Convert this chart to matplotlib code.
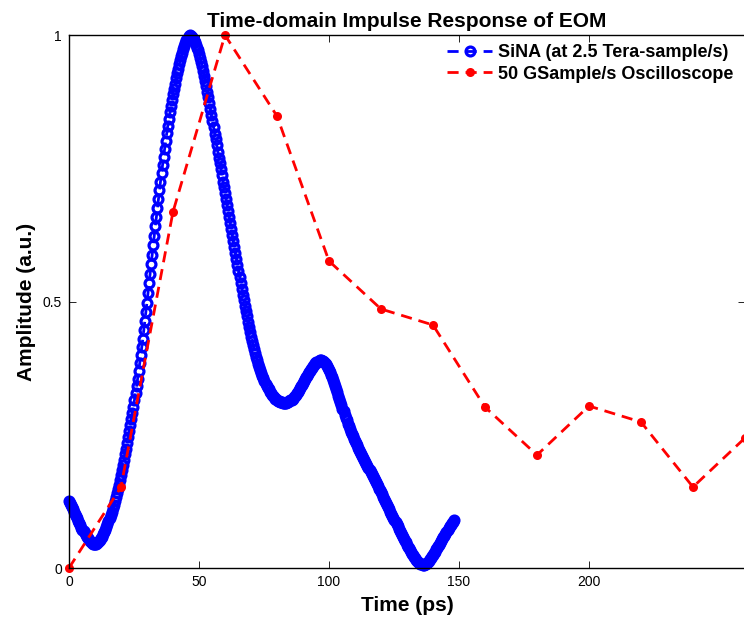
import matplotlib
matplotlib.use("Agg")
import matplotlib.pyplot as plt
import numpy as np

plt.rcParams.update({
    'font.family': 'sans-serif',
    'font.sans-serif': ['Liberation Sans', 'DejaVu Sans'],
    'font.size': 10,
    'xtick.direction': 'in', 'ytick.direction': 'in',
    'xtick.top': True, 'ytick.right': True,
    'xtick.major.size': 5, 'ytick.major.size': 5,
    'xtick.major.width': 0.6, 'ytick.major.width': 0.6,
    'axes.linewidth': 1.0,
})

# SiNA trace, one sample every 0.4 ps (2.5 Tera-sample/s), starting at t = 0
SAMPLE_PS = 0.4
sina_amp = [
    0.126, 0.122, 0.119, 0.115, 0.110, 0.106, 0.102, 0.097, 0.093, 0.088,
    0.084, 0.080, 0.076, 0.072, 0.069, 0.065, 0.062, 0.059, 0.056, 0.053,
    0.050, 0.048, 0.047, 0.046, 0.045, 0.045, 0.046, 0.047, 0.048, 0.051,
    0.053, 0.056, 0.059, 0.063, 0.068, 0.072, 0.077, 0.082, 0.088, 0.094,
    0.100, 0.106, 0.113, 0.119, 0.126, 0.133, 0.141, 0.148, 0.156, 0.165,
    0.174, 0.184, 0.193, 0.203, 0.214, 0.224, 0.235, 0.246, 0.257, 0.268,
    0.279, 0.291, 0.303, 0.315, 0.328, 0.341, 0.355, 0.369, 0.384, 0.399,
    0.414, 0.430, 0.447, 0.464, 0.481, 0.498, 0.516, 0.534, 0.552, 0.570,
    0.588, 0.606, 0.623, 0.641, 0.658, 0.675, 0.692, 0.709, 0.725, 0.741,
    0.757, 0.772, 0.787, 0.802, 0.816, 0.830, 0.842, 0.855, 0.867, 0.878,
    0.889, 0.899, 0.909, 0.919, 0.928, 0.937, 0.945, 0.953, 0.960, 0.967,
    0.974, 0.980, 0.985, 0.990, 0.994, 0.998, 1.000, 0.999, 0.996, 0.993,
    0.990, 0.986, 0.981, 0.976, 0.971, 0.965, 0.957, 0.950, 0.942, 0.933,
    0.924, 0.914, 0.904, 0.894, 0.883, 0.872, 0.861, 0.850, 0.838, 0.827,
    0.815, 0.804, 0.793, 0.781, 0.770, 0.759, 0.748, 0.737, 0.725, 0.714,
    0.703, 0.692, 0.681, 0.669, 0.658, 0.647, 0.636, 0.625, 0.613, 0.602,
    0.591, 0.580, 0.569, 0.557, 0.546, 0.535, 0.524, 0.513, 0.503, 0.492,
    0.482, 0.472, 0.462, 0.452, 0.443, 0.434, 0.426, 0.418, 0.410, 0.403,
    0.396, 0.390, 0.383, 0.377, 0.372, 0.366, 0.361, 0.356, 0.351, 0.346,
    0.342, 0.338, 0.335, 0.331, 0.328, 0.325, 0.323, 0.320, 0.318, 0.317,
    0.315, 0.314, 0.313, 0.312, 0.311, 0.311, 0.310, 0.310, 0.310, 0.310,
    0.311, 0.312, 0.313, 0.315, 0.316, 0.318, 0.320, 0.323, 0.325, 0.328,
    0.331, 0.334, 0.337, 0.341, 0.344, 0.347, 0.351, 0.354, 0.358, 0.361,
    0.364, 0.367, 0.370, 0.373, 0.376, 0.379, 0.381, 0.384, 0.386, 0.387,
    0.389, 0.390, 0.390, 0.389, 0.388, 0.387, 0.385, 0.382, 0.379, 0.376,
    0.372, 0.368, 0.363, 0.358, 0.353, 0.348, 0.342, 0.336, 0.330, 0.323,
    0.317, 0.311, 0.305, 0.299, 0.294, 0.288, 0.282, 0.277, 0.271, 0.266,
    0.261, 0.256, 0.251, 0.247, 0.242, 0.238, 0.234, 0.230, 0.226, 0.222,
    0.218, 0.214, 0.210, 0.206, 0.203, 0.199, 0.195, 0.191, 0.187, 0.184,
    0.180, 0.176, 0.172, 0.168, 0.165, 0.161, 0.157, 0.153, 0.149, 0.146,
    0.142, 0.138, 0.134, 0.130, 0.126, 0.122, 0.118, 0.114, 0.110, 0.106,
    0.102, 0.098, 0.094, 0.090, 0.086, 0.082, 0.078, 0.074, 0.070, 0.066,
    0.062, 0.058, 0.055, 0.051, 0.048, 0.044, 0.040, 0.037, 0.033, 0.030,
    0.027, 0.024, 0.021, 0.019, 0.016, 0.013, 0.011, 0.010, 0.008, 0.007,
    0.006, 0.006, 0.007, 0.008, 0.010, 0.012, 0.014, 0.017, 0.019, 0.022,
    0.025, 0.028, 0.031, 0.035, 0.038, 0.041, 0.044, 0.047, 0.051, 0.054,
    0.058, 0.061, 0.064, 0.068, 0.071, 0.075, 0.078, 0.081, 0.084, 0.087,
    0.090,
]
sina_time = np.arange(len(sina_amp)) * SAMPLE_PS

# 50 GSample/s oscilloscope, one sample every 20 ps
scope_time = [0, 20, 40, 60, 80, 100, 120, 140, 160, 180, 200, 220, 240, 260]
scope_amp = [0.0, 0.152, 0.668, 1.0, 0.848, 0.576, 0.486, 0.456,
             0.302, 0.212, 0.304, 0.274, 0.152, 0.244]

fig = plt.figure(figsize=(7.44, 6.21), dpi=100)
ax = fig.add_axes([0.0927, 0.0853, 0.9086, 0.8583])

ax.plot(sina_time, sina_amp, color=(0, 0, 1), linestyle=(0, (4, 2.5)),
        linewidth=2, marker='o', markersize=6.4, markeredgewidth=2.3,
        markerfacecolor='none', markeredgecolor=(0, 0, 1), clip_on=False,
        label='SiNA (at 2.5 Tera-sample/s)')
ax.plot(scope_time, scope_amp, color=(1, 0, 0), linestyle=(0, (4, 2.5)),
        linewidth=2, marker='o', markersize=6.5, markeredgewidth=0,
        clip_on=False, label='50 GSample/s Oscilloscope')

ax.set_xlim(0, 260)
ax.set_ylim(0, 1)
ax.set_xticks([0, 50, 100, 150, 200])
ax.set_yticks([0, 0.5, 1])
ax.set_yticklabels(['0', '0.5', '1'])
ax.tick_params(labelsize=10, pad=5)

ax.set_title('Time-domain Impulse Response of EOM', fontsize=15,
             fontweight='bold', pad=6)
ax.set_xlabel('Time (ps)', fontsize=15, fontweight='bold', labelpad=5)
ax.set_ylabel('Amplitude (a.u.)', fontsize=15, fontweight='bold', labelpad=5)

leg = ax.legend(loc='upper right', bbox_to_anchor=(733 / 744, 1 - 44 / 621),
                bbox_transform=fig.transFigure, frameon=False,
                prop={'size': 13, 'weight': 'bold'}, handlelength=2.5,
                handletextpad=0.3, labelspacing=0.25, borderpad=0,
                borderaxespad=0, numpoints=1)

fig.savefig('out.png', dpi=100)
